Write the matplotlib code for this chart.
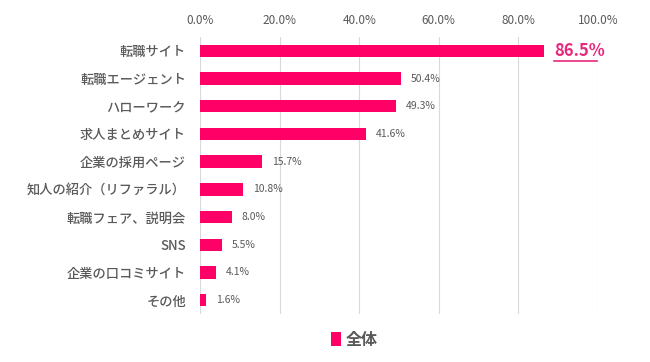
import matplotlib.pyplot as plt
from matplotlib.ticker import PercentFormatter

plt.rcParams['font.family'] = ['Noto Sans CJK JP', 'DejaVu Sans']

categories = ["転職サイト", "転職エージェント", "ハローワーク", "求人まとめサイト",
              "企業の採用ページ", "知人の紹介（リファラル）", "転職フェア、説明会",
              "SNS", "企業の口コミサイト", "その他"]
values = [86.5, 50.4, 49.3, 41.6, 15.7, 10.8, 8.0, 5.5, 4.1, 1.6]
series_name = "全体"

bar_color = "#FF0066"
text_color = "#595959"

fig = plt.figure(figsize=(6.5, 3.62), dpi=100)
ax = fig.add_axes([200 / 650, 1 - 314 / 362, 398 / 650, 277 / 362])

y = range(len(categories))
ax.barh(y, values, height=0.45, color=bar_color, label=series_name, zorder=3)

ax.set_xlim(0, 100)
ax.set_ylim(len(categories) - 0.5, -0.5)
ax.set_yticks(list(y))
ax.set_yticklabels(categories, fontsize=9.5, color=text_color, fontweight="medium")
ax.set_xticks(range(0, 101, 20))
ax.xaxis.set_major_formatter(PercentFormatter(decimals=1))
ax.xaxis.tick_top()
ax.tick_params(axis="x", labelsize=8.5, colors=text_color, length=0, pad=7)
ax.tick_params(axis="y", length=0, pad=10)
ax.grid(axis="x", color="#D9D9D9", linewidth=0.8, zorder=0)
for s in ax.spines.values():
    s.set_visible(False)

for i, v in enumerate(values):
    if i == 0:
        ax.text(v + 2.5, i, f"{v:.1f}%", va="center", ha="left",
                fontsize=12, color="#E8287A", fontweight="bold")
        ax.plot([v + 2.5, v + 13.3], [i + 0.36, i + 0.36], color="#E8287A",
                linewidth=1.2, clip_on=False, zorder=4)
    else:
        ax.text(v + 2.5, i, f"{v:.1f}%", va="center", ha="left",
                fontsize=7.5, color=text_color)

leg = fig.legend(loc="lower center", bbox_to_anchor=(0.545, 0.0), frameon=False,
                 fontsize=11.5, handlelength=0.6, handleheight=0.9, handletextpad=0.3,
                 labelcolor=text_color)
for t in leg.get_texts():
    t.set_fontweight("bold")

fig.savefig("out.png", dpi=100)
